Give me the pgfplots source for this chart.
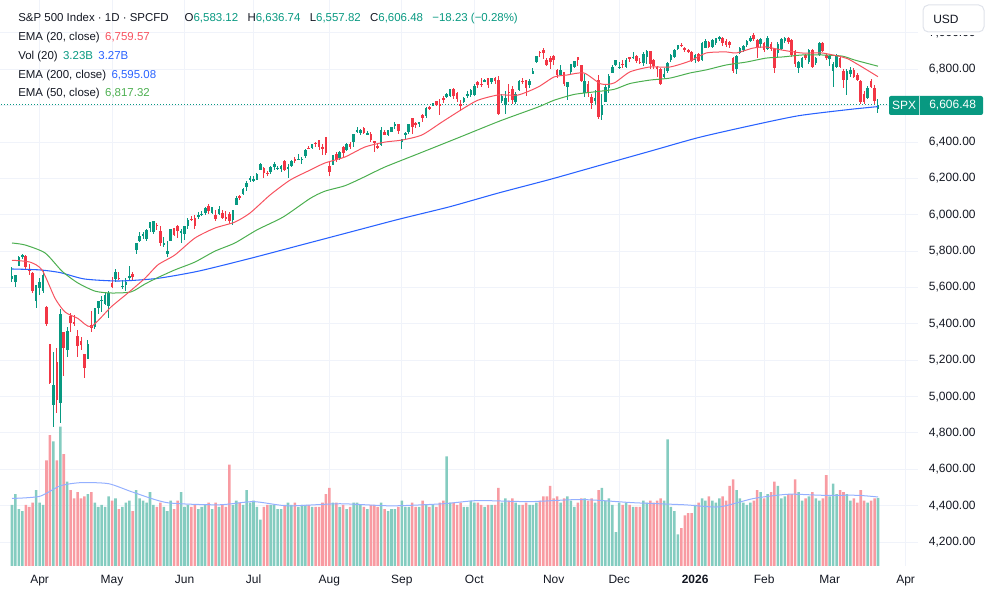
\documentclass[border=0pt]{standalone}
\usepackage{pgfplots}
\pgfplotsset{compat=1.18}
\usepackage{pgfplotstable}
\usepackage{fontspec}
\setmainfont{Liberation Sans}
\definecolor{upc}{RGB}{8,153,129}
\definecolor{dnc}{RGB}{242,54,69}
\definecolor{vup}{RGB}{132,204,192}
\definecolor{vdn}{RGB}{248,155,162}
\definecolor{emaA}{RGB}{247,82,95}
\definecolor{emaB}{RGB}{76,175,80}
\definecolor{emaC}{RGB}{41,98,255}
\definecolor{volma}{RGB}{148,176,255}
\definecolor{txt}{RGB}{19,23,34}
\definecolor{gridc}{RGB}{240,243,250}
\definecolor{bordc}{RGB}{224,227,235}

\pgfplotstableread{
i o h l c v
0 5646 5711 5632 5662 2.9
1 5630 5670 5603 5667 3.4
2 5718 5775 5718 5767 2.7
3 5772 5786 5758 5777 2.6
4 5772 5777 5695 5712 2.9
5 5696 5732 5670 5693 2.8
6 5679 5685 5572 5581 3.0
7 5527 5615 5488 5612 3.6
8 5597 5650 5558 5633 3.0
9 5581 5695 5571 5671 2.9
10 5492 5500 5391 5397 5.0
11 5292 5292 5069 5074 6.2
12 4953 5246 4835 5062 5.9
13 5193 5267 4910 4982 5.0
14 4967 5481 4856 5457 6.6
15 5353 5353 5115 5268 5.3
16 5255 5381 5220 5363 4.0
17 5441 5459 5358 5406 3.6
18 5411 5450 5386 5397 3.2
19 5335 5367 5220 5276 3.5
20 5305 5329 5255 5283 3.2
21 5233 5233 5101 5158 3.3
22 5207 5309 5207 5288 3.4
23 5395 5469 5356 5376 3.5
24 5381 5489 5371 5485 3.0
25 5490 5528 5455 5525 2.8
26 5529 5553 5468 5529 2.9
27 5509 5571 5506 5561 2.8
28 5499 5581 5433 5569 3.3
29 5626 5659 5597 5604 3.1
30 5645 5700 5629 5687 3.2
31 5655 5684 5639 5650 2.7
32 5605 5644 5590 5607 2.8
33 5614 5654 5579 5631 3.0
34 5650 5720 5637 5664 3.1
35 5674 5683 5640 5660 2.6
36 5807 5845 5786 5844 3.6
37 5854 5906 5851 5886 3.2
38 5887 5906 5868 5892 3.1
39 5868 5924 5856 5917 3.0
40 5930 5958 5907 5958 3.5
41 5903 5968 5895 5964 2.9
42 5945 5954 5914 5940 2.8
43 5910 5939 5830 5845 3.0
44 5841 5878 5825 5842 2.8
45 5782 5858 5768 5802 2.6
46 5855 5924 5855 5922 3.1
47 5925 5930 5886 5889 2.7
48 5939 5943 5875 5912 3.1
49 5904 5922 5844 5912 3.5
50 5896 5938 5861 5936 2.8
51 5939 5981 5921 5970 2.9
52 5978 5991 5966 5971 2.8
53 5985 5999 5921 5939 2.9
54 5987 6016 5978 6000 2.7
55 6005 6022 5994 6006 2.8
56 6009 6043 5997 6039 2.9
57 6049 6059 6002 6022 3.0
58 6010 6045 6004 6045 2.7
59 5997 6027 5964 5977 3.0
60 6005 6051 6001 6033 2.8
61 6012 6024 5975 5983 2.9
62 5987 6019 5967 5981 2.8
63 6004 6018 5952 5967 4.8
64 5970 6028 5944 6025 2.9
65 6056 6101 6055 6092 3.1
66 6104 6109 6080 6092 3.0
67 6113 6146 6108 6141 2.9
68 6151 6187 6133 6173 3.6
69 6194 6215 6181 6205 3.0
70 6187 6211 6178 6198 3.1
71 6194 6228 6192 6227 2.8
72 6247 6285 6246 6279 2.2
73 6260 6263 6201 6230 2.8
74 6232 6242 6216 6226 2.9
75 6236 6270 6222 6263 2.9
76 6264 6290 6245 6280 2.9
77 6256 6269 6248 6260 2.7
78 6250 6272 6238 6269 2.7
79 6295 6302 6243 6244 2.9
80 6253 6280 6202 6264 3.0
81 6269 6301 6262 6297 2.9
82 6308 6316 6285 6297 3.0
83 6304 6336 6303 6306 2.8
84 6307 6317 6281 6309 2.9
85 6326 6360 6315 6359 2.9
86 6368 6381 6360 6363 2.9
87 6370 6390 6364 6389 2.8
88 6397 6401 6375 6390 2.8
89 6409 6410 6358 6371 2.8
90 6374 6392 6331 6362 3.0
91 6427 6428 6327 6339 3.4
92 6271 6288 6212 6238 3.7
93 6272 6330 6272 6330 3.0
94 6336 6346 6289 6299 3.0
95 6310 6352 6301 6345 2.8
96 6374 6380 6318 6340 2.9
97 6354 6395 6350 6389 2.7
98 6389 6402 6364 6374 2.8
99 6398 6446 6373 6446 3.0
100 6461 6481 6450 6466 3.0
101 6449 6474 6441 6469 2.9
102 6479 6481 6444 6450 2.8
103 6445 6459 6438 6449 2.7
104 6446 6456 6401 6411 2.9
105 6404 6407 6343 6396 2.9
106 6380 6393 6361 6370 2.8
107 6386 6482 6380 6467 3.0
108 6457 6467 6438 6439 2.7
109 6441 6468 6435 6466 2.6
110 6458 6485 6453 6481 2.7
111 6486 6508 6470 6502 2.7
112 6497 6497 6444 6460 2.8
113 6402 6416 6360 6416 3.1
114 6445 6454 6418 6448 2.8
115 6456 6502 6445 6502 2.8
116 6530 6533 6443 6482 3.0
117 6505 6512 6475 6495 2.8
118 6500 6513 6485 6512 2.8
119 6547 6555 6510 6532 3.1
120 6545 6592 6533 6587 2.9
121 6594 6600 6577 6584 2.8
122 6600 6616 6596 6615 2.9
123 6625 6627 6598 6606 2.8
124 6611 6638 6551 6600 3.0
125 6642 6656 6614 6631 3.1
126 6647 6672 6640 6664 5.2
127 6652 6694 6650 6693 3.0
128 6693 6697 6639 6656 3.0
129 6671 6673 6619 6637 2.9
130 6608 6634 6570 6605 3.0
131 6623 6650 6616 6644 2.8
132 6661 6680 6640 6661 2.8
133 6661 6690 6646 6688 3.1
134 6659 6718 6656 6711 3.0
135 6731 6736 6697 6715 3.0
136 6722 6750 6705 6716 2.9
137 6734 6749 6730 6740 2.8
138 6750 6754 6700 6714 2.9
139 6729 6754 6720 6753 2.9
140 6754 6759 6717 6735 2.9
141 6740 6764 6550 6553 3.7
142 6624 6665 6616 6654 3.0
143 6602 6680 6552 6644 3.2
144 6677 6722 6623 6671 3.1
145 6690 6706 6608 6630 3.2
146 6622 6673 6610 6664 3.0
147 6685 6744 6682 6735 2.9
148 6736 6752 6718 6735 2.9
149 6743 6744 6654 6699 3.0
150 6712 6746 6700 6738 2.9
151 6772 6808 6772 6792 2.9
152 6839 6876 6836 6875 3.0
153 6898 6903 6870 6891 3.1
154 6907 6920 6855 6891 3.3
155 6852 6862 6818 6822 3.3
156 6863 6871 6800 6840 3.8
157 6874 6880 6822 6852 3.2
158 6796 6804 6751 6771 3.3
159 6768 6822 6762 6796 3.0
160 6787 6788 6707 6720 3.2
161 6705 6728 6631 6728 3.3
162 6787 6832 6768 6832 3.1
163 6813 6847 6806 6846 2.8
164 6867 6869 6819 6851 3.0
165 6822 6822 6728 6738 3.2
166 6670 6776 6647 6734 3.2
167 6720 6737 6650 6672 3.1
168 6648 6662 6581 6617 3.2
169 6628 6687 6606 6642 3.0
170 6740 6770 6525 6538 3.6
171 6551 6664 6521 6603 3.7
172 6619 6720 6618 6705 3.1
173 6697 6777 6671 6766 3.2
174 6778 6824 6778 6813 2.9
175 6822 6850 6817 6849 1.6
176 6813 6843 6800 6813 3.0
177 6830 6851 6807 6829 2.9
178 6815 6862 6810 6850 3.0
179 6867 6867 6841 6857 2.9
180 6866 6895 6858 6870 2.8
181 6872 6878 6834 6846 2.8
182 6842 6864 6829 6840 2.8
183 6837 6895 6819 6887 3.1
184 6866 6904 6829 6901 3.0
185 6900 6901 6801 6827 3.1
186 6850 6858 6801 6816 3.0
187 6812 6820 6760 6800 3.1
188 6800 6806 6712 6721 3.2
189 6760 6810 6752 6775 3.1
190 6790 6840 6780 6834 6.0
191 6850 6882 6842 6878 2.8
192 6870 6912 6860 6909 2.6
193 6910 6935 6905 6932 1.5
194 6935 6945 6922 6929 1.8
195 6918 6925 6895 6905 2.4
196 6906 6912 6892 6896 2.5
197 6895 6900 6842 6846 2.5
198 6850 6885 6835 6880 2.9
199 6885 6892 6838 6845 3.0
200 6850 6950 6845 6944 3.2
201 6920 6965 6915 6958 3.1
202 6950 6958 6915 6925 3.3
203 6925 6968 6920 6962 3.1
204 6945 6975 6935 6970 3.0
205 6968 6985 6955 6978 3.2
206 6975 6980 6930 6945 3.3
207 6955 6965 6925 6935 3.1
208 6948 6955 6918 6932 3.8
209 6860 6870 6782 6790 4.1
210 6800 6880 6775 6875 3.6
211 6890 6922 6882 6915 3.2
212 6905 6935 6895 6930 3.0
213 6935 6960 6925 6955 2.9
214 6955 6982 6950 6975 3.0
215 6990 7002 6958 6965 3.1
216 6962 6968 6862 6925 3.6
217 6940 6975 6920 6968 3.5
218 6945 6952 6895 6906 3.2
219 6910 6985 6905 6970 3.4
220 6938 6948 6900 6912 3.5
221 6912 6918 6780 6810 4.0
222 6890 6948 6868 6940 3.8
223 6912 6975 6905 6968 3.2
224 6955 6978 6945 6970 3.3
225 6972 6980 6940 6950 3.4
226 6960 6965 6870 6880 3.4
227 6900 6908 6815 6830 4.1
228 6810 6845 6780 6840 3.5
229 6815 6870 6805 6865 3.1
230 6880 6885 6850 6860 3.2
231 6840 6910 6830 6905 3.3
232 6905 6912 6810 6815 3.5
233 6835 6870 6825 6865 3.2
234 6880 6950 6875 6945 3.1
235 6945 6952 6895 6900 3.2
236 6880 6890 6850 6862 4.3
237 6855 6880 6820 6875 3.3
238 6790 6840 6705 6830 3.9
239 6813 6885 6805 6880 3.4
240 6865 6872 6805 6815 3.6
241 6790 6800 6700 6740 3.5
242 6740 6800 6660 6790 3.4
243 6775 6815 6760 6795 3.1
244 6797 6805 6752 6760 3.2
245 6770 6778 6735 6742 3.0
246 6735 6740 6612 6622 3.6
247 6665 6680 6610 6620 3.1
248 6640 6710 6635 6700 3.0
249 6738 6748 6700 6705 3.1
250 6700 6712 6612 6624.71 3.2
251 6583.12 6636.74 6557.82 6606.48 3.23
}\candles

\pgfplotstableread{
x y
0 5750
5.2 5740
8.7 5697
12.5 5540
15.4 5465
19.1 5430
22.9 5385
28.7 5493
33.6 5570
38.6 5652
42.3 5725
47.2 5779
53 5872
58.8 5927
64.6 5960
69 6010
74.8 6109
80.6 6191
86.4 6246
90.7 6285
96.5 6318
102.3 6373
108.1 6400
113 6411
118.8 6439
124.6 6510
130.4 6580
135 6630
140.9 6659
146.7 6659
152.5 6703
157.1 6758
160.9 6769
165.8 6780
170.7 6720
174.5 6725
179.1 6786
184.9 6813
190.7 6813
196.5 6846
201.2 6890
207 6896
209.9 6890
214.8 6917
218.6 6923
223.2 6906
229 6890
234.8 6890
240.6 6868
242.3 6858
246.4 6813
251 6759.57
}\emaA

\pgfplotstableread{
x y
0 5845
3.8 5834
9.6 5790
14.5 5690
19.1 5625
24.1 5580
28.7 5570
34.5 5576
38.6 5620
42.3 5655
47.2 5697
53 5740
58.8 5800
64.6 5845
71 5917
78.6 5988
86.4 6090
90.7 6130
96.5 6160
102.3 6210
108.1 6263
118.3 6340
129.9 6428
141.4 6516
152.5 6593
157.1 6630
162.9 6662
168.7 6676
174.5 6690
179.1 6722
184.9 6741
190.7 6752
196.5 6780
201.2 6797
207 6824
212.8 6840
218.6 6862
223.2 6868
229 6879
234.8 6879
240.6 6873
244.3 6851
251 6817.32
}\emaB

\pgfplotstableread{
x y
0 5702
8 5697
14 5682
21 5647
31 5636
42 5650
54 5690
69 5760
83 5830
98 5905
112 5975
127 6045
141 6120
156 6195
170 6270
185 6350
199 6425
214 6490
228 6545
243 6580
251 6595.08
}\emaC

\pgfplotstableread{
x y
0 3.2
8 3.3
14 3.8
20 3.95
28 3.9
35 3.5
45 3.0
60 2.9
70 3.05
80 2.85
95 2.95
110 2.85
125 2.95
135 3.1
150 3.05
165 3.15
180 3.0
195 2.9
205 2.8
215 3.2
225 3.4
235 3.35
245 3.35
251 3.27
}\volma

\pgfplotsset{
  frame/.style={at={(0pt,24.75pt)}, anchor=south west, width=688.5pt, height=424.5pt,
    scale only axis, xmin=-3.478, xmax=262.6},
  candle/.style 2 args={draw=none, mark=none,
    error bars/y dir=both, error bars/y explicit, error bars/error mark=none,
    error bars/error bar style={line width=#1, draw=#2}},
}

\begin{document}
\begin{tikzpicture}
% grid layer
\begin{axis}[frame, ymin=4068.5, ymax=7181.5,
  axis line style={draw=none}, major tick length=0pt,
  xtick={8,29,50,70,92,113,134,157,176,198,218,237,259},
  ytick={4200,4400,...,7000},
  xticklabels={}, yticklabels={},
  xmajorgrids, ymajorgrids,
  major grid style={draw=gridc, line width=0.75pt}]
\addplot[draw=none, mark=none] coordinates {(0,5000)};
\end{axis}
% volume layer
\begin{axis}[frame, ymin=0, ymax=26.82, hide axis]
\addplot[ybar, bar width=1.9pt, bar shift=0pt, fill=vup, draw=none,
  restrict expr to domain={\thisrow{c}-\thisrow{o}}{0:100000}]
  table[x=i, y=v]{\candles};
\addplot[ybar, bar width=1.9pt, bar shift=0pt, fill=vdn, draw=none,
  restrict expr to domain={\thisrow{o}-\thisrow{c}}{0.0001:100000}]
  table[x=i, y=v]{\candles};
\addplot[volma, line width=0.75pt, smooth, tension=0.4, mark=none] table[x=x, y=y]{\volma};
\end{axis}
% price layer
\begin{axis}[frame, ymin=4068.5, ymax=7181.5,
  axis line style={draw=none}, major tick length=0pt,
  ytick pos=right, yticklabel pos=right, xtick pos=bottom,
  scaled y ticks=false,
  xtick={8,29,50,70,92,113,134,157,176,198,218,237,259},
  xticklabels={Apr,May,Jun,Jul,Aug,Sep,Oct,Nov,Dec,\textbf{2026},Feb,Mar,Apr},
  ytick={4200,4400,...,7000},
  yticklabels={{4,200.00},{4,400.00},{4,600.00},{4,800.00},{5,000.00},{5,200.00},{5,400.00},{5,600.00},{5,800.00},{6,000.00},{6,200.00},{6,400.00},{6,600.00},{6,800.00},{7,000.00}},
  ticklabel style={font=\fontsize{9}{10}\selectfont, text=txt},
  xticklabel style={anchor=base, yshift=-13.5pt, inner sep=0pt},
  yticklabel style={anchor=west, xshift=8pt, inner sep=0pt},
  clip=true]
% last price dotted line
\addplot[upc, mark=none, line width=0.75pt, dash pattern=on 0.75pt off 1.5pt] coordinates {(-4,6606.48) (263,6606.48)};
% wicks
\addplot[candle={0.75pt}{upc},
  restrict expr to domain={\thisrow{c}-\thisrow{o}}{0:100000}]
  table[x=i, y expr={(\thisrow{h}+\thisrow{l})/2}, y error expr={(\thisrow{h}-\thisrow{l})/2}]{\candles};
\addplot[candle={0.75pt}{dnc},
  restrict expr to domain={\thisrow{o}-\thisrow{c}}{0.0001:100000}]
  table[x=i, y expr={(\thisrow{h}+\thisrow{l})/2}, y error expr={(\thisrow{h}-\thisrow{l})/2}]{\candles};
% bodies
\addplot[candle={1.95pt}{upc},
  restrict expr to domain={\thisrow{c}-\thisrow{o}}{0:100000}]
  table[x=i, y expr={(\thisrow{o}+\thisrow{c})/2}, y error expr={max(abs(\thisrow{c}-\thisrow{o})/2,1.5)}]{\candles};
\addplot[candle={1.95pt}{dnc},
  restrict expr to domain={\thisrow{o}-\thisrow{c}}{0.0001:100000}]
  table[x=i, y expr={(\thisrow{o}+\thisrow{c})/2}, y error expr={max(abs(\thisrow{c}-\thisrow{o})/2,1.5)}]{\candles};
% EMAs
\addplot[emaC, mark=none, line width=0.8pt, smooth, tension=0.4] table[x=x, y=y]{\emaC};
\addplot[emaB, mark=none, line width=0.75pt, smooth, tension=0.4] table[x=x, y=y]{\emaB};
\addplot[emaA, mark=none, line width=0.75pt, smooth, tension=0.4] table[x=x, y=y]{\emaA};
\end{axis}

\begin{scope}[shift={(0pt,449.25pt)}, x=0.75pt, y=-0.75pt]
% price tags
\fill[upc, rounded corners=1.5pt] (889,96) rectangle (983,115);
\draw[white!70!upc, line width=0.6pt] (919,96) -- (919,115);
\node[text=white, inner sep=0, font=\fontsize{9}{10}\selectfont] at (904,105.5) {SPX};
\node[anchor=west, text=white, inner sep=0, font=\fontsize{9}{10}\selectfont] at (929,105.5) {6,606.48};
% USD box (covers most of the 7,000.00 label)
\fill[white] (920,0) rectangle (1000,35);
\draw[bordc, fill=white, line width=0.75pt, rounded corners=4pt] (923,5) rectangle (984,32);
\node[anchor=west, text=txt, inner sep=0, font=\fontsize{9}{10}\selectfont] at (933,19) {USD};
% legend
\begin{scope}[every node/.style={anchor=base west, inner sep=0, text=txt, font=\fontsize{8.6}{10}\selectfont}]
\node at (18,21.5) {S\&P 500 Index · 1D · SPCFD\hspace{12pt}O\textcolor{upc}{6,583.12}\hspace{7pt}H\textcolor{upc}{6,636.74}\hspace{7pt}L\textcolor{upc}{6,557.82}\hspace{7pt}C\textcolor{upc}{6,606.48}\hspace{7pt}\textcolor{upc}{−18.23 (−0.28\%)}};
\node at (18,40.5) {EMA (20, close)\hspace{4pt}\textcolor{emaA}{6,759.57}};
\node at (18,59.5) {Vol (20)\hspace{4pt}\textcolor{upc}{3.23B}\hspace{4pt}\textcolor{emaC}{3.27B}};
\node at (18,78.5) {EMA (200, close)\hspace{4pt}\textcolor{emaC}{6,595.08}};
\node at (18,97) {EMA (50, close)\hspace{4pt}\textcolor{emaB}{6,817.32}};
\end{scope}
\end{scope}
\pgfresetboundingbox
\path[use as bounding box] (0,0) rectangle (750pt,449.25pt);
\end{tikzpicture}
\end{document}
